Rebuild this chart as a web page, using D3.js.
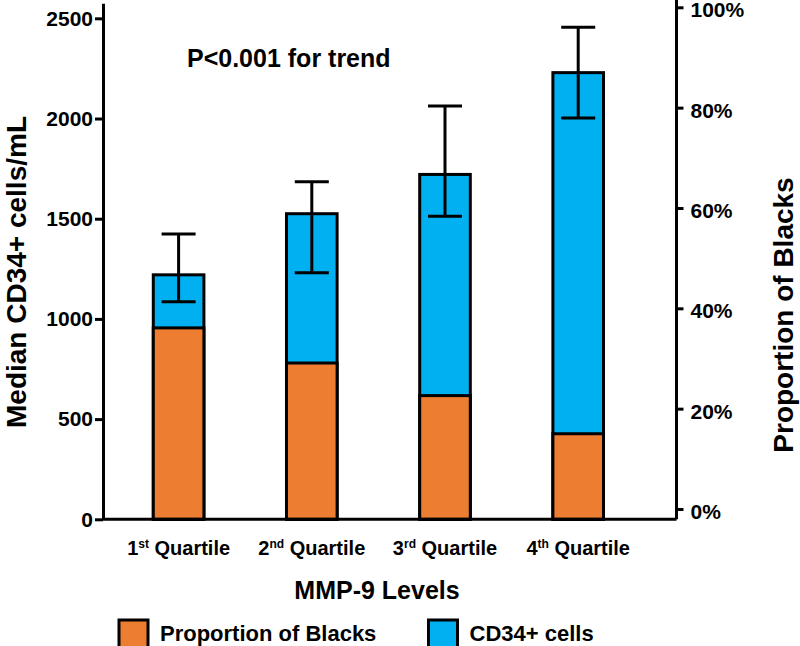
<!DOCTYPE html>
<html>
<head>
<meta charset="utf-8">
<script src="https://cdn.jsdelivr.net/npm/d3@7"></script>
<style>
  body { margin: 0; background: #fff; }
  svg { display: block; font-family: "Liberation Sans", Arial, sans-serif; font-weight: bold; }
</style>
</head>
<body>
<svg width="800" height="646"></svg>
<script>
// quartile labels (number + superscript suffix)
const qNum = ['1', '2', '3', '4'];
const qSup = ['st', 'nd', 'rd', 'th'];
// median CD34+ cells/mL with error range
const cd34 = [1220, 1525, 1721, 2229];
const cd34Low = [1086, 1230, 1512, 2002];
const cd34High = [1424, 1685, 2063, 2456];
// proportion of Blacks per quartile
const blacks = [0.361, 0.291, 0.226, 0.150];
const leftTicks = [0, 500, 1000, 1500, 2000, 2500];
const rightTicks = [0, 0.2, 0.4, 0.6, 0.8, 1];

const orange = '#ED7D31';
const blue = '#00B0F0';

const svg = d3.select('svg');

const x = d3.scaleBand()
    .domain(qNum)
    .range([112, 644.8])
    .paddingInner(0.62)
    .paddingOuter(0.31);

const yLeft = d3.scaleLinear().domain([0, 2575]).range([519.3, 3.3]);
const yRight = d3.scaleLinear().domain([0, 1]).range([509, 7.3]);

const rows = qNum.map((q, i) => ({ q, sup: qSup[i], v: cd34[i], lo: cd34Low[i], hi: cd34High[i], p: blacks[i] }));

// blue bars (CD34+ cells)
svg.append('g').selectAll('rect')
    .data(rows).enter().append('rect')
    .attr('x', d => x(d.q))
    .attr('width', x.bandwidth())
    .attr('y', d => yLeft(d.v))
    .attr('height', d => yLeft(0) - yLeft(d.v))
    .attr('fill', blue)
    .attr('stroke', '#000')
    .attr('stroke-width', 3);

// orange bars (proportion of Blacks, right axis)
svg.append('g').selectAll('rect')
    .data(rows).enter().append('rect')
    .attr('x', d => x(d.q))
    .attr('width', x.bandwidth())
    .attr('y', d => yRight(d.p))
    .attr('height', d => yLeft(0) - yRight(d.p))
    .attr('fill', orange)
    .attr('stroke', '#000')
    .attr('stroke-width', 3);

// error bars
const err = svg.append('g').attr('stroke', '#000').attr('stroke-width', 3);
const cx = d => x(d.q) + x.bandwidth() / 2;
const capW = 17;
err.selectAll('.stem').data(rows).enter().append('line')
    .attr('x1', cx).attr('x2', cx)
    .attr('y1', d => yLeft(d.lo)).attr('y2', d => yLeft(d.hi));
err.selectAll('.capHi').data(rows).enter().append('line')
    .attr('x1', d => cx(d) - capW).attr('x2', d => cx(d) + capW)
    .attr('y1', d => yLeft(d.hi)).attr('y2', d => yLeft(d.hi));
err.selectAll('.capLo').data(rows).enter().append('line')
    .attr('x1', d => cx(d) - capW).attr('x2', d => cx(d) + capW)
    .attr('y1', d => yLeft(d.lo)).attr('y2', d => yLeft(d.lo));

// left axis
const gl = svg.append('g')
    .attr('transform', 'translate(103,0)')
    .call(d3.axisLeft(yLeft).tickValues(leftTicks).tickSize(8).tickSizeOuter(0).tickPadding(2)
        .tickFormat(d3.format('d')));
// right axis
const gr = svg.append('g')
    .attr('transform', 'translate(676.5,0)')
    .call(d3.axisRight(yRight).tickValues(rightTicks).tickSize(7).tickSizeOuter(0).tickPadding(7)
        .tickFormat(d3.format('.0%')));
gr.select('.domain').remove();
gr.append('line').attr('y1', 0).attr('y2', yLeft(0)).attr('stroke', '#000');

[gl, gr].forEach(g => {
    g.selectAll('path,line').attr('stroke', '#000').attr('stroke-width', 3);
    g.selectAll('text').attr('fill', '#000').style('font-size', '21px').style('font-family', null);
});
gr.selectAll('.tick text').attr('dy', '0.45em');

// bottom axis line
svg.append('line')
    .attr('x1', 103).attr('x2', 676.5)
    .attr('y1', yLeft(0)).attr('y2', yLeft(0))
    .attr('stroke', '#000').attr('stroke-width', 3);

// category labels with superscripts
const lab = svg.append('g').selectAll('text')
    .data(rows).enter().append('text')
    .attr('x', cx)
    .attr('y', 555)
    .attr('text-anchor', 'middle')
    .style('font-size', '20px');
lab.append('tspan').text(d => d.q);
lab.append('tspan').attr('dy', -7).style('font-size', '12px').text(d => d.sup);
lab.append('tspan').attr('dy', 7).text(' Quartile');

svg.append('text')
    .attr('x', 377).attr('y', 599)
    .attr('text-anchor', 'middle')
    .style('font-size', '25px')
    .text('MMP-9 Levels');

svg.append('text')
    .attr('x', 187).attr('y', 66.7)
    .style('font-size', '25px')
    .text('P<0.001 for trend');

svg.append('text')
    .attr('transform', 'translate(26,272) rotate(-90)')
    .attr('text-anchor', 'middle')
    .style('font-size', '28px')
    .text('Median CD34+ cells/mL');

svg.append('text')
    .attr('transform', 'translate(793,315) rotate(-90)')
    .attr('text-anchor', 'middle')
    .style('font-size', '28px')
    .text('Proportion of Blacks');

// legend
const legend = [
    { label: 'Proportion of Blacks', color: orange, x: 119 },
    { label: 'CD34+ cells', color: blue, x: 428.5 }
];
const lg = svg.append('g').selectAll('g').data(legend).enter().append('g');
lg.append('rect')
    .attr('x', d => d.x).attr('y', 620)
    .attr('width', 29).attr('height', 29)
    .attr('fill', d => d.color)
    .attr('stroke', '#000').attr('stroke-width', 3);
lg.append('text')
    .attr('x', d => d.x + 41).attr('y', 641)
    .style('font-size', '22px')
    .text(d => d.label);
</script>
</body>
</html>
